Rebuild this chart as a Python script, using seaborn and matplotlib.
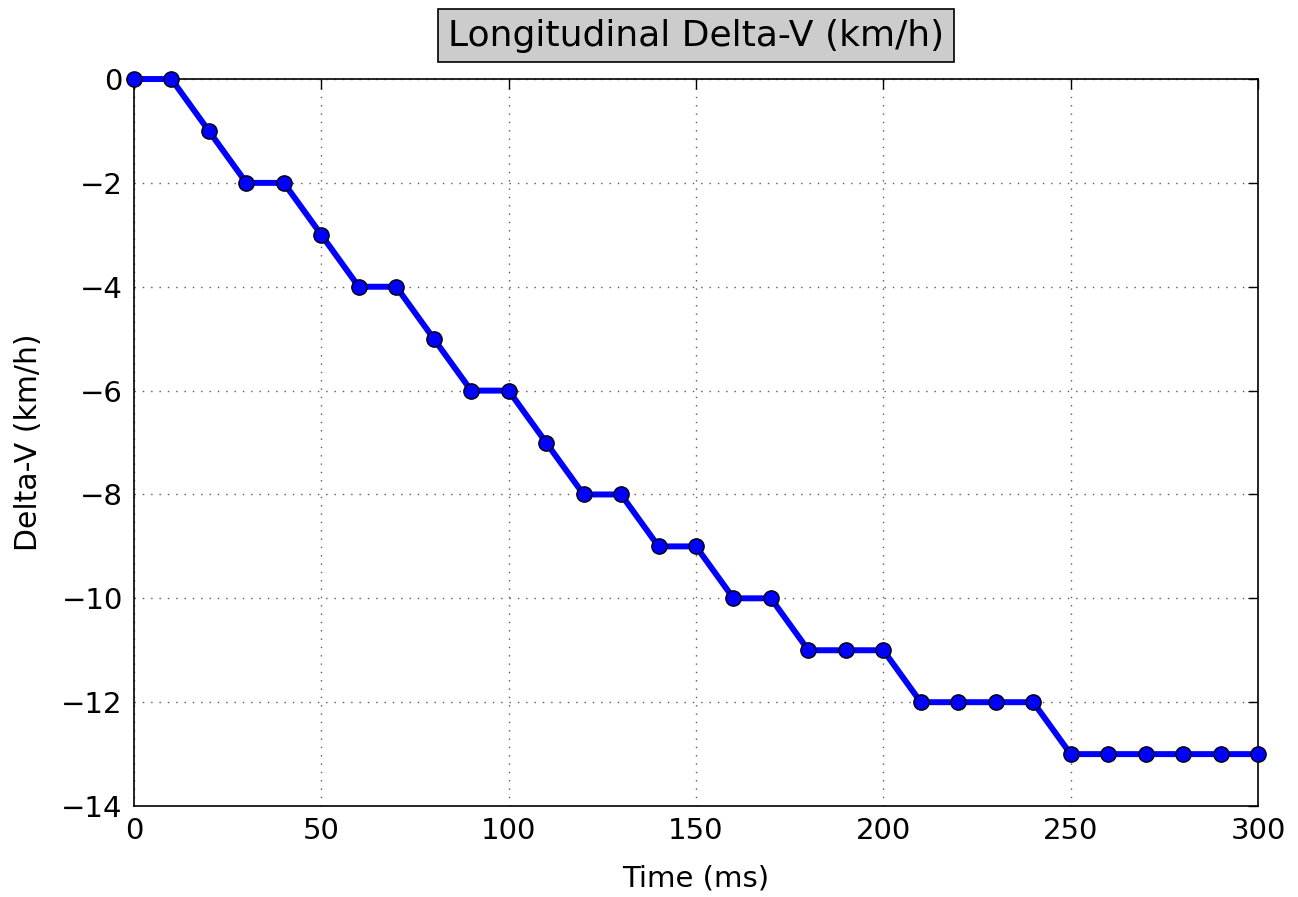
import matplotlib
matplotlib.use("Agg")
import matplotlib.pyplot as plt
import seaborn as sns
import pandas as pd

time_ms = [0, 10, 20, 30, 40, 50, 60, 70, 80, 90, 100, 110, 120, 130, 140, 150,
           160, 170, 180, 190, 200, 210, 220, 230, 240, 250, 260, 270, 280, 290, 300]
delta_v = [0, 0, -1, -2, -2, -3, -4, -4, -5, -6, -6, -7, -8, -8, -9, -9,
           -10, -10, -11, -11, -11, -12, -12, -12, -12, -13, -13, -13, -13, -13, -13]
x_ticks = [0, 50, 100, 150, 200, 250, 300]
y_ticks = [0, -2, -4, -6, -8, -10, -12, -14]

sns.set_style("white")
plt.rcParams['font.family'] = ['DejaVu Sans']
plt.rcParams['text.color'] = 'black'
plt.rcParams['axes.labelcolor'] = 'black'

df = pd.DataFrame({"Time (ms)": time_ms, "Delta-V (km/h)": delta_v})

fig = plt.figure(figsize=(12.98, 8.97), dpi=100)
ax = fig.add_axes([0.1032, 0.1014, 0.866, 0.8105])
sns.lineplot(data=df, x="Time (ms)", y="Delta-V (km/h)", ax=ax, color="blue",
             linewidth=4.3, marker="o", markersize=11, markeredgecolor="black",
             markeredgewidth=1.0, clip_on=False, zorder=5)

ax.set_xlim(0, 300)
ax.set_ylim(-14, 0)
ax.set_xticks(x_ticks)
ax.set_yticks(y_ticks)
ax.set_yticklabels(["0" if v == 0 else "\u2212" + str(-v) for v in y_ticks])
ax.grid(True, color="0.35", linestyle=(0, (1, 5)), linewidth=1.0)
ax.tick_params(direction="in", length=7, width=1, top=True, right=True,
               labelsize=21, pad=8, colors="black")
for s in ax.spines.values():
    s.set_color("black")
    s.set_linewidth(1.2)
ax.set_xlabel("Time (ms)", fontsize=21, labelpad=14)
ax.set_ylabel("Delta-V (km/h)", fontsize=21.5, labelpad=13)
ax.set_title("Longitudinal Delta-V (km/h)", fontsize=26, pad=24,
             bbox=dict(facecolor="#cccccc", edgecolor="black", linewidth=1.2, pad=7))

fig.savefig("out.png", dpi=100)
